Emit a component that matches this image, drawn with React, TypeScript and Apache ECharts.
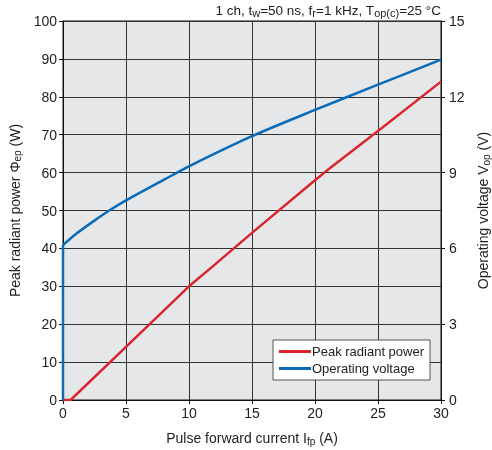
import React, { useEffect, useRef } from "react";
import * as echarts from "echarts";

const currentPower = [0, 0.6, 5, 10, 11.65, 15, 20, 21.2, 25, 30];
const peakPower = [0, 0, 14, 30, 34.6, 44.1, 58, 61.2, 71, 84];

const currentVoltage = [0, 1, 2.35, 3.67, 5, 8.06, 10, 15, 20, 25, 30];
const operatingVoltage = [6.13, 6.56, 7.05, 7.5, 7.9, 8.73, 9.25, 10.44, 11.48, 12.48, 13.47];
const riseCurrent = [0, 0];
const riseVoltage = [0, 6.13];

const FONT = "Liberation Sans, Arial, Helvetica, sans-serif";

export default function App() {
  const ref = useRef<HTMLDivElement>(null);
  useEffect(() => {
    if (!ref.current) return;
    const chart = echarts.init(ref.current, undefined, { renderer: "svg" });
    const axisLine = { show: true, lineStyle: { color: "#111", width: 1 } };
    const tick = { show: true, inside: false, length: 4, lineStyle: { color: "#111" } };
    const label = { color: "#222", fontSize: 14, fontFamily: FONT };
    const split = { show: true, lineStyle: { color: "#333", width: 1 } };
    const sub = { fontSize: 10, fontFamily: FONT, padding: [6, 0, 0, 0] };
    const blue = "#0a6cb8";
    const red = "#d9262e";
    chart.setOption({
      animation: false,
      textStyle: { fontFamily: FONT },
      grid: {
        left: 63, right: 51, top: 21, bottom: 50, show: true,
        backgroundColor: "#e6e7e9", borderColor: "#111", borderWidth: 1,
        outerBoundsMode: "none", containLabel: false,
      },
      graphic: [
        {
          type: "text",
          right: 51,
          top: 3,
          style: {
            text: "1 ch, t{s|w}=50 ns, f{s|r}=1 kHz, T{s|op(c)}=25 °C",
            fontSize: 13.5,
            fontFamily: FONT,
            fill: "#222",
            rich: { s: { fontSize: 11, fontFamily: FONT, fill: "#222", padding: [6, 0, 0, 0] } },
          },
        },
      ],
      legend: {
        left: 273,
        top: 340,
        orient: "vertical",
        icon: "rect",
        itemWidth: 32,
        itemHeight: 3,
        itemGap: 4,
        backgroundColor: "#fff",
        borderColor: "#555",
        borderWidth: 1,
        borderRadius: 0,
        padding: [5, 6, 5, 6],
        textStyle: { fontSize: 13, color: "#222", fontFamily: FONT, padding: [0, 0, 0, -4] },
        data: ["Peak radiant power", "Operating voltage"],
      },
      xAxis: {
        type: "value",
        min: 0,
        max: 30,
        interval: 5,
        axisLine,
        axisTick: tick,
        axisLabel: { ...label, margin: 6 },
        splitLine: split,
        name: "Pulse forward current I{s|fp} (A)",
        nameLocation: "middle",
        nameGap: 30,
        nameTextStyle: { fontSize: 14, color: "#222", fontFamily: FONT, rich: { s: sub } },
      },
      yAxis: [
        {
          type: "value",
          min: 0,
          max: 100,
          interval: 10,
          axisLine,
          axisTick: tick,
          axisLabel: { ...label, margin: 6 },
          splitLine: split,
          name: "Peak radiant power Φ{s|ep} (W)",
          nameLocation: "middle",
          nameGap: 40,
          nameTextStyle: { fontSize: 14, color: "#222", fontFamily: FONT, rich: { s: sub } },
        },
        {
          type: "value",
          min: 0,
          max: 15,
          interval: 3,
          position: "right",
          axisLine,
          axisTick: tick,
          axisLabel: { ...label, margin: 8 },
          splitLine: { show: false },
          name: "Operating voltage V{s|op} (V)",
          nameLocation: "middle",
          nameGap: 34,
          nameTextStyle: { fontSize: 14, color: "#222", fontFamily: FONT, rich: { s: sub } },
        },
      ],
      series: [
        {
          name: "Peak radiant power",
          type: "line",
          yAxisIndex: 0,
          data: currentPower.map((x, i) => [x, peakPower[i]]),
          showSymbol: false,
          smooth: false,
          lineStyle: { color: red, width: 2.5 },
          itemStyle: { color: red },
        },
        {
          name: "Operating voltage",
          type: "line",
          yAxisIndex: 1,
          data: currentVoltage.map((x, i) => [x, operatingVoltage[i]]),
          showSymbol: false,
          smooth: 0.3,
          lineStyle: { color: blue, width: 2.5 },
          itemStyle: { color: blue },
        },
        {
          name: "Operating voltage",
          type: "line",
          yAxisIndex: 1,
          data: riseCurrent.map((x, i) => [x, riseVoltage[i]]),
          showSymbol: false,
          lineStyle: { color: blue, width: 2.5 },
          itemStyle: { color: blue },
        },
      ],
    });
    return () => chart.dispose();
  }, []);
  return <div ref={ref} style={{ position: "fixed", left: 0, top: 0, width: 492, height: 450 }} />;
}
